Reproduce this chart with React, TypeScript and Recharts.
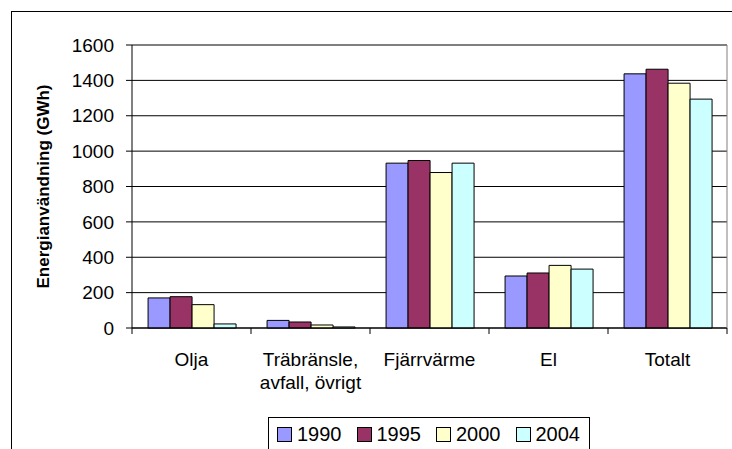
import { Bar, BarChart, CartesianGrid, Legend, Text, XAxis, YAxis } from 'recharts';

const FONT = '"Liberation Sans", Arial, sans-serif';

const CATEGORIES = ['Olja', 'Träbränsle, avfall, övrigt', 'Fjärrvärme', 'El', 'Totalt'];
const YEARS = ['1990', '1995', '2000', '2004'];
const VALUES_1990 = [170, 43, 932, 294, 1437];
const VALUES_1995 = [177, 34, 947, 311, 1463];
const VALUES_2000 = [132, 17, 879, 354, 1384];
const VALUES_2004 = [23, 6, 932, 333, 1294];
const Y_TICKS = [0, 200, 400, 600, 800, 1000, 1200, 1400, 1600];
const Y_LABEL = 'Energianvändning (GWh)';

const COLORS = ['#9999FF', '#993366', '#FFFFCC', '#CCFFFF'];
const SERIES = [VALUES_1990, VALUES_1995, VALUES_2000, VALUES_2004];

const data = CATEGORIES.map((name, i) => {
  const row: Record<string, string | number> = { name };
  YEARS.forEach((y, k) => {
    row[y] = SERIES[k][i];
  });
  return row;
});

// category ticks sit between the groups, like Excel does
function CategoryTick(props: any) {
  const { x, y, payload } = props;
  const half = payload.offset || 59.5;
  const isLast = payload.value === CATEGORIES[CATEGORIES.length - 1];
  return (
    <g>
      <line x1={x - half} x2={x - half} y1={y} y2={y + 6} stroke="#000" />
      {isLast && <line x1={x + half} x2={x + half} y1={y} y2={y + 6} stroke="#000" />}
      <Text
        x={x}
        y={y + 25}
        width={118}
        textAnchor="middle"
        verticalAnchor="start"
        lineHeight={23}
        fontSize={19}
        fontFamily={FONT}
        fill="#000"
        style={{ fontSize: 19, fontFamily: FONT }}
      >
        {payload.value}
      </Text>
    </g>
  );
}

function LegendBox({ payload }: any) {
  return (
    <div
      style={{
        boxSizing: 'border-box',
        height: 34,
        border: '1px solid #000',
        display: 'flex',
        alignItems: 'center',
        paddingLeft: 8,
        fontFamily: FONT,
        fontSize: 20,
        color: '#000',
        background: '#fff',
      }}
    >
      {(payload ?? []).map((p: any, i: number) => (
        <div key={p.value} style={{ display: 'flex', alignItems: 'center', marginLeft: i ? 15 : 0 }}>
          <span
            style={{
              display: 'inline-block',
              width: 15,
              height: 15,
              boxSizing: 'border-box',
              border: '1px solid #000',
              background: p.color,
              marginRight: 5,
            }}
          />
          <span>{p.value}</span>
        </div>
      ))}
    </div>
  );
}

export default function App() {
  return (
    <div
      style={{
        position: 'fixed',
        left: 0,
        top: 0,
        width: 732,
        height: 449,
        overflow: 'hidden',
        background: '#fff',
      }}
    >
      <div
        style={{
          position: 'absolute',
          left: 11,
          top: 11,
          width: 800,
          height: 800,
          border: '1px solid #000',
        }}
      />
      <div style={{ position: 'absolute', left: 0, top: 0 }}>
        <BarChart
          width={732}
          height={449}
          data={data}
          margin={{ top: 45, right: 0, left: 0, bottom: 27 }}
          barCategoryGap="13.5%"
          barGap={0}
        >
          <CartesianGrid vertical={false} stroke="#000" />
          <XAxis
            dataKey="name"
            height={60}
            tickSize={0}
            tickMargin={0}
            tickLine={false}
            axisLine={{ stroke: '#000' }}
            tick={<CategoryTick />}
            interval={0}
          />
          <YAxis
            width={132}
            domain={[0, 1600]}
            ticks={Y_TICKS}
            tickSize={6}
            tickMargin={12}
            tickLine={{ stroke: '#000' }}
            axisLine={{ stroke: '#000' }}
            tick={{ fontSize: 19, fill: '#000', fontFamily: FONT }}
            label={(p: any) => {
              const vb = p.viewBox ?? { x: 0, y: 45, height: 283 };
              const cx = 49;
              const cy = vb.y + vb.height / 2;
              return (
                <text
                  x={cx}
                  y={cy}
                  transform={`rotate(-90 ${cx} ${cy})`}
                  textAnchor="middle"
                  fontFamily={FONT}
                  fontSize={17}
                  fontWeight="bold"
                  fill="#000"
                >
                  {Y_LABEL}
                </text>
              );
            }}
          />
          <YAxis
            yAxisId="right"
            orientation="right"
            width={5}
            domain={[0, 1600]}
            tick={false}
            tickLine={false}
            axisLine={{ stroke: '#808080' }}
          />
          <Legend
            content={<LegendBox />}
            wrapperStyle={{ left: 268, top: 417, width: 322, height: 34 }}
          />
          {YEARS.map((y, k) => (
            <Bar
              key={y}
              dataKey={y}
              name={y}
              fill={COLORS[k]}
              stroke="#000"
              strokeWidth={1}
              isAnimationActive={false}
            />
          ))}
        </BarChart>
      </div>
    </div>
  );
}
